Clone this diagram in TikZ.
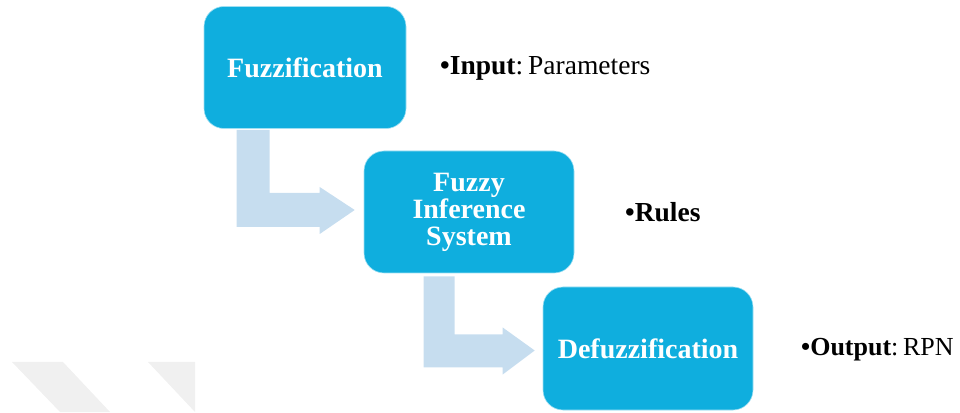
\documentclass[tikz,border=0pt]{standalone}
\usepackage{fontspec}
\setmainfont{Liberation Serif}
\usetikzlibrary{calc}
\definecolor{boxblue}{HTML}{0FAEDE}
\definecolor{arrowblue}{HTML}{C6DDEF}
\definecolor{stripegray}{HTML}{F0F0F0}
\newcommand{\colsp}{:\hspace{0.18em}}
\tikzset{
  stage/.style={fill=boxblue, draw=boxblue!40!white, line width=0.6pt,
    rounded corners=20pt, text=white, align=center,
    font=\fontsize{28}{27}\selectfont\bfseries, inner sep=0pt},
  bentarrow/.style={fill=arrowblue},
  note/.style={anchor=west, inner sep=0pt, font=\fontsize{27.5}{28}\selectfont},
  stripe/.style={fill=stripegray}
}
\begin{document}
\begin{tikzpicture}[x=1pt,y=1pt]
\useasboundingbox (0,0) rectangle (960,412);

% faint diagonal stripes, lower left
\fill[stripe] (12,50) -- (63,50) -- (110,0) -- (60,0) -- cycle;
\fill[stripe] (148,50) -- (195,50) -- (195,0) -- cycle;

% the three stages
\node[stage, minimum width=202pt, minimum height=122pt] (f) at (305,344.5) {Fuzzification};
\node[stage, minimum width=210pt, minimum height=122pt] (i) at (469,200) {Fuzzy\\Inference\\System};
\node[stage, minimum width=210pt, minimum height=123pt] (d) at (648,63.5) {Defuzzification};

% bent arrows from one stage to the next
\fill[bentarrow] let \p1=(f.south west), \p2=(i.west) in
  (\x1+33pt,\y1-1pt) -- (\x1+66pt,\y1-1pt) -- (\x1+66pt,\y2+19pt)
  -- (\x2-44pt,\y2+19pt) -- (\x2-44pt,\y2+25pt) -- (\x2-9pt,\y2+2pt)
  -- (\x2-44pt,\y2-22pt) -- (\x2-44pt,\y2-15pt) -- (\x1+33pt,\y2-15pt) -- cycle;
\fill[bentarrow] let \p1=(i.south west), \p2=(d.west) in
  (\x1+60pt,\y1-3pt) -- (\x1+91pt,\y1-3pt) -- (\x1+91pt,\y2+14pt)
  -- (\x2-40pt,\y2+14pt) -- (\x2-40pt,\y2+21pt) -- (\x2-8pt,\y2-2pt)
  -- (\x2-40pt,\y2-26pt) -- (\x2-40pt,\y2-19pt) -- (\x1+60pt,\y2-19pt) -- cycle;

% side notes
\node[note] (ni) at (440,344) {\textbf{•Input}\colsp Parameters};
\node[note] (nr) at (625,200) {\textbf{•Rules}};
\node[note, font=\fontsize{26}{28}\selectfont] (no) at (801,62) {\textbf{•Output}\colsp RPN};
\end{tikzpicture}
\end{document}
